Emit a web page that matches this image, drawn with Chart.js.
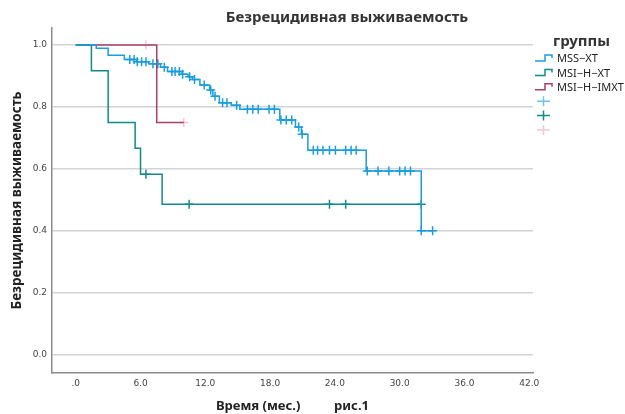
<!DOCTYPE html>
<html>
<head>
<meta charset="utf-8">
<script src="https://cdn.jsdelivr.net/npm/chart.js@4.4.1/dist/chart.umd.min.js"></script>
<style>
  body { margin: 0; background: #fff; }
  canvas { display: block; }
</style>
</head>
<body>
<canvas id="kmChart" width="625" height="414"></canvas>
<script>
// Kaplan-Meier steps: time (months) and survival after each drop
const mssTimes = [0, 1.9, 3.0, 4.5, 5.65, 6.75, 7.85, 8.5, 9.85, 10.4, 10.8, 11.5, 12.4, 12.7, 13.3, 14.4, 15.2, 18.9, 20.35, 20.9, 21.5, 26.9, 32.0, 33.05];
const mssSurv  = [1.0, 0.99, 0.967, 0.953, 0.946, 0.94, 0.928, 0.915, 0.906, 0.898, 0.889, 0.871, 0.855, 0.835, 0.814, 0.806, 0.793, 0.758, 0.736, 0.712, 0.661, 0.594, 0.401, 0.401];
const mssCensored = [5.0, 5.4, 5.7, 6.1, 6.5, 7.15, 7.6, 8.2, 8.9, 9.2, 9.6, 9.9, 10.55, 11.0, 11.9, 12.5, 12.9, 13.6, 14.0, 14.9, 15.9, 16.4, 16.9, 17.9, 18.4, 19.0, 19.5, 20.0, 20.65, 20.97, 22.0, 22.4, 22.9, 23.5, 24.05, 25.0, 25.5, 25.97, 27.0, 28.0, 29.0, 30.0, 30.5, 31.0, 32.0, 33.05];

const msiTimes = [0, 1.45, 3.0, 5.5, 6.0, 8.0, 32.0];
const msiSurv  = [1.0, 0.917, 0.75, 0.667, 0.583, 0.486, 0.486];
const msiCensored = [6.5, 10.5, 23.5, 25.0, 32.0];

const imxtTimes = [0, 7.5, 10.0];
const imxtSurv  = [1.0, 0.75, 0.75];
const imxtCensored = [6.5, 10.0];

const groupNames = ['MSS−XT', 'MSI−H−XT', 'MSI−H−IMXT'];
const xTickValues = [0, 6, 12, 18, 24, 30, 36, 42];
const yTickValues = [0, 0.2, 0.4, 0.6, 0.8, 1.0];

const blue = '#1a9ddc';
const teal = '#138a8a';
const maroon = '#a8406c';
const pink = '#f3c4d5';

function stepPoints(times, surv) {
    return times.map((t, i) => ({ x: t, y: surv[i] }));
}

// censor marks sit on the curve at the time they happen
function censorPoints(censored, times, surv) {
    return censored.map(t => {
        let s = surv[0];
        for (let i = 0; i < times.length; i++) {
            if (times[i] <= t) s = surv[i];
        }
        return { x: t, y: s };
    });
}

function curve(label, times, surv, color) {
    return {
        type: 'line',
        label: label,
        data: stepPoints(times, surv),
        stepped: 'before',   // horizontal first, then the drop
        borderColor: color,
        borderWidth: 1.5,
        pointRadius: 0,
        fill: false
    };
}

function censors(label, censored, times, surv, color) {
    return {
        type: 'scatter',
        label: label,
        data: censorPoints(censored, times, surv),
        pointStyle: 'cross',
        pointRadius: 4.5,
        borderColor: color,
        borderWidth: 1.5,
        showLine: false
    };
}

const legendItems = [
    { kind: 'step', color: blue, text: groupNames[0] },
    { kind: 'step', color: teal, text: groupNames[1] },
    { kind: 'step', color: maroon, text: groupNames[2] },
    { kind: 'cross', color: '#6cc3ec' },
    { kind: 'cross', color: teal },
    { kind: 'cross', color: pink }
];

const decorations = {
    id: 'decorations',
    afterDraw(chart) {
        const ctx = chart.ctx;
        ctx.save();
        ctx.fillStyle = '#333';
        ctx.textBaseline = 'middle';
        ctx.font = 'bold 15px "Noto Sans"';
        ctx.textAlign = 'center';
        ctx.fillText('Безрецидивная выживаемость', 347, 18);

        ctx.textAlign = 'left';
        ctx.font = 'bold 15px "Noto Sans"';
        ctx.fillText('группы', 553, 42);

        ctx.font = '11px "Noto Sans"';
        legendItems.forEach((item, i) => {
            const y = 58 + i * 14.4;
            ctx.strokeStyle = item.color;
            ctx.lineWidth = 1.5;
            ctx.beginPath();
            if (item.kind === 'step') {
                ctx.moveTo(535, y + 3);
                ctx.lineTo(545, y + 3);
                ctx.lineTo(545, y - 3);
                ctx.lineTo(552, y - 3);
                ctx.lineTo(552, y);
            } else {
                ctx.moveTo(537, y);
                ctx.lineTo(550, y);
                ctx.moveTo(543.5, y - 5);
                ctx.lineTo(543.5, y + 5);
            }
            ctx.stroke();
            if (item.text) {
                ctx.fillStyle = '#222';
                ctx.fillText(item.text, 557, y + 1);
            }
        });
        ctx.restore();
    }
};

new Chart(document.getElementById('kmChart'), {
    data: {
        datasets: [
            curve(groupNames[0], mssTimes, mssSurv, blue),
            curve(groupNames[1], msiTimes, msiSurv, teal),
            curve(groupNames[2], imxtTimes, imxtSurv, maroon),
            censors(groupNames[0] + ' цензурировано', mssCensored, mssTimes, mssSurv, blue),
            censors(groupNames[1] + ' цензурировано', msiCensored, msiTimes, msiSurv, teal),
            censors(groupNames[2] + ' цензурировано', imxtCensored, imxtTimes, imxtSurv, pink)
        ]
    },
    options: {
        responsive: false,
        animation: false,
        devicePixelRatio: 1,
        layout: { padding: { top: 28, right: 92, bottom: 0, left: 0 } },
        plugins: {
            legend: { display: false },
            tooltip: { enabled: false }
        },
        scales: {
            x: {
                type: 'linear',
                min: -2.2,
                max: 42.35,
                afterBuildTicks: scale => { scale.ticks = xTickValues.map(v => ({ value: v })); },
                afterFit: scale => { scale.height = 41; },
                grid: { display: false, drawTicks: false },
                border: { display: true, color: '#8c8c8c', width: 1.5 },
                ticks: {
                    padding: 5,
                    color: '#444',
                    font: { family: '"DejaVu Sans"', size: 9 },
                    callback: v => v === 0 ? '.0' : v.toFixed(1)
                },
                title: {
                    display: true,
                    text: 'Время (мес.)          рис.1',
                    color: '#222',
                    font: { family: '"Noto Sans"', size: 13, weight: 'bold' },
                    padding: { top: 0, bottom: 0 }
                }
            },
            y: {
                min: -0.058,
                max: 1.055,
                afterBuildTicks: scale => { scale.ticks = yTickValues.map(v => ({ value: v })); },
                afterFit: scale => { scale.width = 52; },
                grid: { color: '#d2d3d6', lineWidth: 1.5, drawTicks: false },
                border: { display: true, color: '#8c8c8c', width: 1.5 },
                ticks: {
                    padding: 5,
                    color: '#444',
                    font: { family: '"DejaVu Sans"', size: 9 },
                    callback: v => v.toFixed(1)
                },
                title: {
                    display: true,
                    text: 'Безрецидивная выживаемость',
                    color: '#222',
                    font: { family: '"Noto Sans"', size: 13.5, weight: 'bold' },
                    padding: { top: 9, bottom: 0 }
                }
            }
        }
    },
    plugins: [decorations]
});
</script>
</body>
</html>
